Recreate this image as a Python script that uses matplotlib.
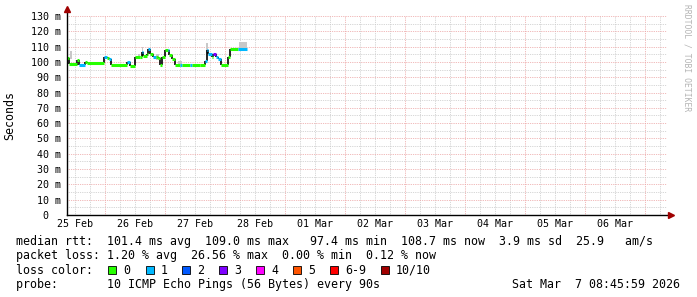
import matplotlib
matplotlib.use("Agg")
import matplotlib.pyplot as plt
from matplotlib.patches import Rectangle

# time in hours since 25 Feb 00:00, graph spans 10 days ending Sat Mar 7 08:45:59
t_start = 8.77
t_end = t_start + 240

day_labels = ["25 Feb", "26 Feb", "27 Feb", "28 Feb", "01 Mar",
              "02 Mar", "03 Mar", "04 Mar", "05 Mar", "06 Mar"]

# median rtt steps (ms) and loss class per step
seg_t = [8.8, 9.6, 12.6, 12.9, 13.4, 16.0, 16.6, 23.7, 24.6, 25.7, 26.2,
         32.6, 34.0, 36.0, 38.0, 38.6, 39.3, 40.6, 41.3, 42.0, 43.3, 44.4,
         45.3, 46.0, 46.6, 48.0, 49.0, 49.4, 50.6, 52.0, 54.0, 54.6, 58.0,
         58.9, 62.0, 64.0, 64.6, 65.3, 66.6, 67.3, 68.4, 69.3, 70.4, 73.3,
         74.0, 77.3, 80.6]
median = [102.5, 98.5, 98.0, 101.0, 98.0, 100.0, 99.0, 103.3, 102.6, 102.0,
          98.0, 99.7, 97.3, 103.0, 103.5, 106.5, 104.0, 105.5, 108.5, 105.0,
          103.0, 103.0, 102.5, 98.0, 103.0, 108.0, 108.0, 104.6, 102.0, 98.0,
          98.0, 98.0, 98.0, 97.7, 98.0, 100.7, 108.0, 105.0, 103.0, 105.5,
          103.0, 102.0, 98.0, 103.0, 108.5, 108.5]
loss = [0, 0, 1, 0, 1, 0, 0, 1, 0, 1, 0, 1, 0, 0, 0, 1, 0, 0, 1, 0, 1, 0,
        0, 0, 0, 0, 1, 0, 0, 0, 1, 0, 1, 0, 0, 1, 1, 1, 0, 3, 1, 1, 0, 0,
        0, 1]

# smoke (spread of pings), ms
smoke_t0 = [10.0, 37.2, 38.6, 44.4, 53.2, 64.4, 77.7]
smoke_t1 = [10.8, 37.8, 39.3, 45.5, 54.8, 65.0, 80.6]
smoke_lo = [102.0, 103.0, 104.0, 101.0, 98.5, 106.0, 108.0]
smoke_hi = [107.0, 105.0, 110.0, 105.5, 100.5, 112.5, 113.0]

loss_labels = ["0", "1", "2", "3", "4", "5", "6-9", "10/10"]
loss_colors = ["#26ff00", "#00b8ff", "#0059ff", "#7e00ff",
               "#ff00ff", "#ff5500", "#ff0000", "#a10000"]

mono = "DejaVu Sans Mono"
W, H = 697, 297
fig = plt.figure(figsize=(W / 100, H / 100), dpi=100)
fig.patch.set_facecolor("white")
ax = fig.add_axes([67 / W, (H - 215) / H, 600 / W, 199 / H])
ax.set_xlim(t_start, t_end)
ax.set_ylim(0, 130)
for s in ax.spines.values():
    s.set_visible(False)

# grid
dots = (0, (0.72, 1.08))
major_c, minor_c = "#eca4a4", "#cacaca"
for h in range(6, 250, 6):
    if t_start < h < t_end:
        major = h % 24 == 0
        ax.axvline(h, color=major_c if major else minor_c, lw=0.72,
                   ls=dots, zorder=1)
for v in range(5, 131, 5):
    major = v % 10 == 0
    ax.axhline(v, color=major_c if major else minor_c, lw=0.72,
               ls=dots, zorder=1)

# smoke
for a, b, lo, hi in zip(smoke_t0, smoke_t1, smoke_lo, smoke_hi):
    ax.add_patch(Rectangle((a, lo), b - a, hi - lo, color="#c8c8c8",
                           lw=0, zorder=2))

# median: black step connectors, colored level segments
for i in range(1, len(median)):
    ax.vlines(seg_t[i], median[i - 1], median[i], color="black", lw=1.2,
              zorder=3)
ax.hlines(median, seg_t[:-1], seg_t[1:],
          colors=[loss_colors[c] for c in loss], lw=2.2, zorder=4)

# axes with arrows
ax.plot([t_start, t_start], [0, 134], color="black", lw=1, clip_on=False,
        zorder=5)
ax.plot([t_start, t_end + 1.5], [0, 0], color="black", lw=1, clip_on=False,
        zorder=5)
ax.plot([t_start], [134.5], marker="^", ms=4, color="#a00000",
        clip_on=False, zorder=6)
ax.plot([t_end + 1.6], [0], marker=">", ms=4, color="#a00000",
        clip_on=False, zorder=6)

ax.set_yticks(range(0, 131, 10))
ax.set_yticklabels(["0  "] + ["%d m" % v for v in range(10, 131, 10)],
                   fontfamily=mono, fontsize=7.2)
ax.set_xticks([12 + 24 * k for k in range(len(day_labels))])
ax.set_xticklabels(day_labels, fontfamily=mono, fontsize=7.2)
ax.tick_params(axis="y", length=0, pad=4.3)
ax.tick_params(axis="x", length=0, pad=3.0)

fig.text(10 / W, 1 - 115 / H, "Seconds", rotation=90, ha="center",
         va="center", fontfamily=mono, fontsize=8.4)
fig.text(687 / W, 1 - 58 / H, "RRDTOOL / TOBI OETIKER", rotation=270,
         ha="center", va="center", fontfamily=mono, fontsize=5.8,
         color="#b4b4b4")

# legend
fs = 8.4
def put(x, y, s, **kw):
    fig.text(x / W, 1 - y / H, s, ha="left", va="center", fontfamily=mono,
             fontsize=fs, **kw)

put(16, 241.5, "median rtt:  101.4 ms avg  109.0 ms max   97.4 ms min"
    "  108.7 ms now  3.9 ms sd  25.9   am/s")
put(16, 256, "packet loss: 1.20 % avg  26.56 % max  0.00 % min  0.12 % now")
put(16, 270, "loss color:")
box_x = [108, 146, 182, 219, 256, 293, 330, 381]
for bx, lab, col in zip(box_x, loss_labels, loss_colors):
    fig.patches.append(Rectangle((bx / W, 1 - 274 / H), 8 / W, 8 / H,
                                 transform=fig.transFigure, facecolor=col,
                                 edgecolor="black", lw=0.6))
    put(bx + 15, 270, lab)
put(16, 284.5, "probe:       10 ICMP Echo Pings (56 Bytes) every 90s")
fig.text(680 / W, 1 - 284.5 / H, "Sat Mar  7 08:45:59 2026", ha="right",
         va="center", fontfamily=mono, fontsize=fs)

fig.savefig("out.png", dpi=100)
